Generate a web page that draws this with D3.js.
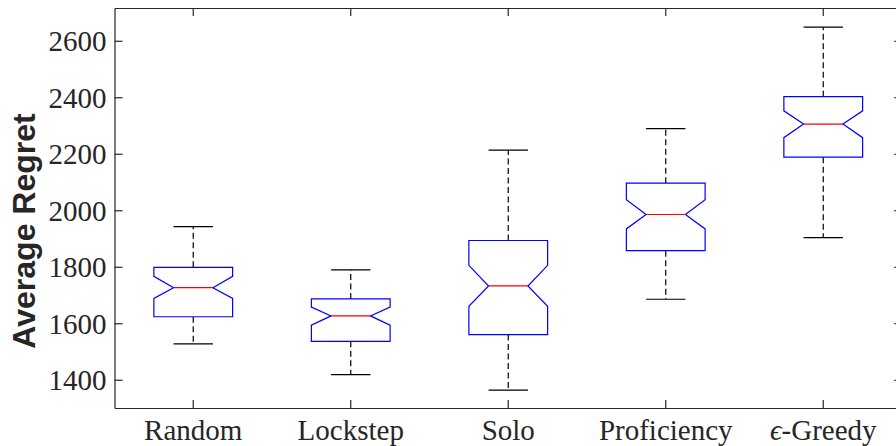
<!DOCTYPE html>
<html>
<head>
<meta charset="utf-8">
<script src="https://cdn.jsdelivr.net/npm/d3@7/dist/d3.min.js"></script>
<style>
  body { margin: 0; background: #fff; }
  .tick text { font-family: "Liberation Serif", "DejaVu Serif", serif; fill: #262626; }
</style>
</head>
<body>
<script>
// chart size
var w = 896, h = 446;

// data
var methods = ["Random", "Lockstep", "Solo", "Proficiency", "eps-Greedy"];
var whiskerLo = [1527, 1418, 1363, 1685, 1903];
var boxLo     = [1623, 1536, 1560, 1857, 2188];
var notchLo   = [1688, 1593, 1660, 1934, 2257];
var medians   = [1726, 1626, 1732, 1985, 2305];
var notchHi   = [1766, 1657, 1805, 2037, 2352];
var boxHi     = [1798, 1686, 1893, 2096, 2402];
var whiskerHi = [1942, 1789, 2213, 2289, 2648];
var yTicks = [1400, 1600, 1800, 2000, 2200, 2400, 2600];

var stats = methods.map(function(m, i){
    return {name: m, wl: whiskerLo[i], q1: boxLo[i], nl: notchLo[i], med: medians[i],
            nh: notchHi[i], q3: boxHi[i], wh: whiskerHi[i]};
});

// plot area edges (right edge sits just past the window)
var padL = 114.5, padR = 902, padT = 8, padB = 408;

var svg = d3.select("body").append("svg")
    .attr("width", w)
    .attr("height", h);

var x = d3.scaleBand()
    .domain(methods)
    .range([padL, padR])
    .paddingInner(0)
    .paddingOuter(0);

var y = d3.scaleLinear()
    .domain([1300, 2716])
    .range([padB, padT]);

var bw = x.bandwidth();
var half = bw * 0.25;   // half box width
var nw = half * 0.5;    // half notch / cap width

var axisColor = "#262626";

// boxes
var boxes = svg.selectAll(".box")
    .data(stats)
    .enter()
    .append("g")
    .attr("class", "box")
    .attr("transform", function(d){ return "translate(" + (x(d.name) + bw / 2) + ",0)"; });

// whiskers (dashed)
boxes.append("line")
    .attr("x1", 0).attr("x2", 0)
    .attr("y1", function(d){ return y(d.q3); })
    .attr("y2", function(d){ return y(d.wh); })
    .attr("stroke", "#000").attr("stroke-width", 1.2)
    .attr("stroke-dasharray", "6,3.5");
boxes.append("line")
    .attr("x1", 0).attr("x2", 0)
    .attr("y1", function(d){ return y(d.q1); })
    .attr("y2", function(d){ return y(d.wl); })
    .attr("stroke", "#000").attr("stroke-width", 1.2)
    .attr("stroke-dasharray", "6,3.5");

// caps
boxes.append("line")
    .attr("x1", -nw).attr("x2", nw)
    .attr("y1", function(d){ return y(d.wh); })
    .attr("y2", function(d){ return y(d.wh); })
    .attr("stroke", "#000").attr("stroke-width", 1.2);
boxes.append("line")
    .attr("x1", -nw).attr("x2", nw)
    .attr("y1", function(d){ return y(d.wl); })
    .attr("y2", function(d){ return y(d.wl); })
    .attr("stroke", "#000").attr("stroke-width", 1.2);

// notched box outline
boxes.append("path")
    .attr("d", function(d){
        var pts = [
            [-half, y(d.q3)], [half, y(d.q3)], [half, y(d.nh)], [nw, y(d.med)],
            [half, y(d.nl)], [half, y(d.q1)], [-half, y(d.q1)], [-half, y(d.nl)],
            [-nw, y(d.med)], [-half, y(d.nh)]
        ];
        return d3.line()(pts) + "Z";
    })
    .attr("fill", "none")
    .attr("stroke", "#0000ff")
    .attr("stroke-width", 1.2);

// median
boxes.append("line")
    .attr("x1", -nw).attr("x2", nw)
    .attr("y1", function(d){ return y(d.med); })
    .attr("y2", function(d){ return y(d.med); })
    .attr("stroke", "#ff0000").attr("stroke-width", 1.2);

// axes
var yAxis = d3.axisLeft(y).tickValues(yTicks).tickSizeInner(-8).tickSizeOuter(0).tickPadding(8)
    .tickFormat(d3.format("d"));
var gy = svg.append("g").attr("transform", "translate(" + padL + ",0)").call(yAxis);
gy.selectAll("text").style("font-size", "29px").attr("dy", "0.34em");

var yAxisR = d3.axisRight(y).tickValues(yTicks).tickSizeInner(-8).tickSizeOuter(0).tickFormat("");
svg.append("g").attr("transform", "translate(" + padR + ",0)").call(yAxisR);

var xAxis = d3.axisBottom(x).tickSizeInner(-8).tickSizeOuter(0).tickPadding(11)
    .tickFormat(function(d){ return d === "eps-Greedy" ? "" : d; });
var gx = svg.append("g").attr("transform", "translate(0," + padB + ")").call(xAxis);
gx.selectAll("text").style("font-size", "29px").attr("dy", "0.71em");

// epsilon label with italic symbol
var eps = gx.selectAll(".tick").filter(function(d){ return d === "eps-Greedy"; }).select("text");
eps.append("tspan").style("font-style", "italic").text("\u03f5");
eps.append("tspan").text("-Greedy");

var xAxisT = d3.axisTop(x).tickSizeInner(-8).tickSizeOuter(0).tickFormat("");
svg.append("g").attr("transform", "translate(0," + padT + ")").call(xAxisT);

svg.selectAll(".domain, .tick line").attr("stroke", axisColor).attr("stroke-width", 1.2);

// y label
svg.append("text")
    .attr("transform", "translate(35,231) rotate(-90)")
    .attr("text-anchor", "middle")
    .style("font-family", "'Liberation Sans', Arial, sans-serif")
    .style("font-weight", "bold")
    .style("font-size", "32px")
    .style("fill", axisColor)
    .text("Average Regret");
</script>
</body>
</html>
